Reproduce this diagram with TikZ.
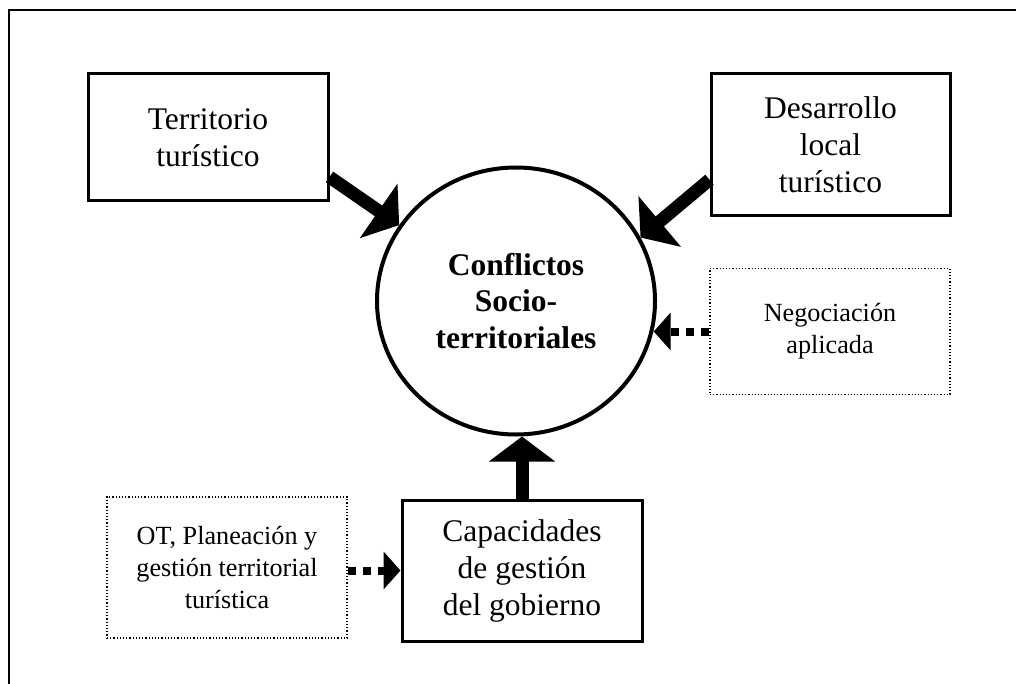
\documentclass[tikz,border=0pt]{standalone}
\usepackage{fontspec}
\setmainfont{Liberation Serif}
\usetikzlibrary{arrows.meta,shapes.geometric}
\tikzset{
  box/.style={draw, line width=1.5pt, align=center, inner sep=0pt,
    font=\fontsize{15.75pt}{18.5pt}\selectfont},
  notebox/.style={draw, densely dotted, line width=0.6pt, align=center, inner sep=0pt,
    minimum width=120pt, minimum height=63pt, font=\fontsize{13.1pt}{16pt}\selectfont},
  bigarrow/.style={line width=6.5pt, -{Triangle[length=12.5pt, width=32.5pt]}},
  dotarrow/.style={line width=4pt, dash pattern=on 4pt off 3.5pt,
    -{Triangle[length=8.5pt, width=18.5pt]}}
}
\begin{document}
\begin{tikzpicture}[x=0.5pt, y=-0.5pt]
  \useasboundingbox (0,0) rectangle (1016,684);
  \draw[line width=1pt] (9,684)--(9,10)--(1016,10);
  \node[box, minimum width=120pt, minimum height=63.5pt] (terr) at (208,137.5)
    {Territorio\\turístico};
  \node[box, minimum width=119.5pt, minimum height=71pt] (des) at (830.5,145)
    {Desarrollo\\local\\turístico};
  \node[notebox] (neg) at (830,331.5) {Negociación\\aplicada};
  \node[draw, ellipse, line width=2pt, minimum width=139pt, minimum height=133.5pt,
    inner sep=0pt, align=center, font=\bfseries\fontsize{15.75pt}{18.3pt}\selectfont]
    (conf) at (516,301) {Conflictos\\Socio-\\territoriales};
  \node[box, minimum width=120pt, minimum height=70.5pt] (cap) at (522,570.5)
    {Capacidades\\de gestión\\del gobierno};
  \node[notebox, minimum height=70.5pt] (ot) at (227,567.5)
    {OT, Planeación y\\gestión territorial\\turística};
  \draw[bigarrow] (terr.-18.6)--(conf.147);
  \draw[bigarrow] (des.196.5)--(conf.27);
  \draw[bigarrow] (cap.north)--(cap.north |- conf.south);
  \draw[dotarrow] (neg.west)--(conf.-12 |- neg.west);
  \draw[dotarrow] (ot.east |- cap.west)--(cap.west);
\end{tikzpicture}
\end{document}
